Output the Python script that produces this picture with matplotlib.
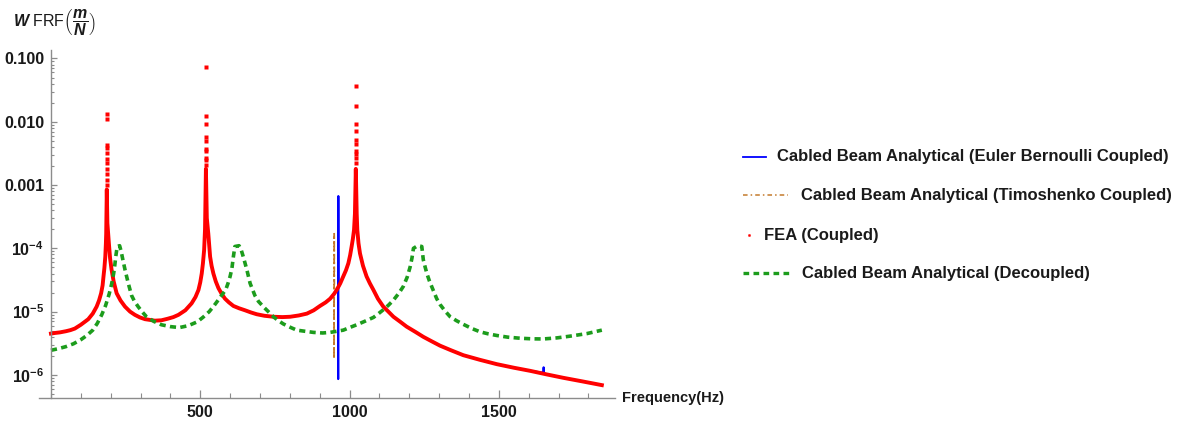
import numpy as np
import matplotlib
matplotlib.use('Agg')
import matplotlib.pyplot as plt
from matplotlib.lines import Line2D
from matplotlib.ticker import FixedLocator, MultipleLocator, NullFormatter, LogLocator

plt.rcParams['font.family'] = ['Liberation Sans', 'DejaVu Sans']
plt.rcParams['mathtext.fontset'] = 'custom'
plt.rcParams['mathtext.rm'] = 'Liberation Sans:bold'
plt.rcParams['mathtext.it'] = 'Liberation Sans:italic:bold'
plt.rcParams['mathtext.bf'] = 'Liberation Sans:bold'

# coupled response (Euler Bernoulli analytical and FEA share this sweep)
freq = [0, 13, 30, 50, 65, 80, 100, 115, 125, 140,
        153, 161, 168, 173, 176, 179, 182, 184, 185, 187,
        189, 194, 198, 203, 210, 220, 233, 248, 265, 281,
        298, 315, 348, 370, 390, 410, 427, 450, 471, 484,
        494, 500, 505, 509, 513, 516, 519, 522, 527, 533,
        538, 544, 552, 561, 572, 583, 596, 611, 630, 650,
        670, 689, 715, 745, 775, 801, 830, 857, 880, 901,
        920, 935, 948, 957, 969, 979, 988, 996, 1002, 1007,
        1011, 1015, 1018, 1021, 1024, 1026, 1030, 1035, 1045, 1057,
        1068, 1080, 1095, 1113, 1130, 1147, 1170, 1191, 1220, 1247,
        1275, 1303, 1340, 1381, 1437, 1493, 1550, 1605, 1660, 1716,
        1780, 1845]
eb_vals = [4.5e-6, 4.6e-6, 4.7e-6, 4.9e-6, 5.1e-6, 5.4e-6, 6.2e-6, 7.0e-6, 7.6e-6, 9.3e-6,
           1.2e-5, 1.5e-5, 1.95e-5, 2.6e-5, 3.6e-5, 4.9e-5, 7.4e-5, 1.2e-4, 1.7e-4, 8.0e-4,
           2.5e-4, 1.2e-4, 7.0e-5, 4.6e-5, 3.0e-5, 1.95e-5, 1.5e-5, 1.2e-5, 1.0e-5, 8.9e-6,
           8.1e-6, 7.6e-6, 7.2e-6, 7.3e-6, 7.7e-6, 8.2e-6, 8.9e-6, 1.05e-5, 1.35e-5, 1.7e-5,
           2.2e-5, 2.9e-5, 4.0e-5, 5.8e-5, 9.4e-5, 2.0e-4, 8.0e-4, 3.0e-4, 1.7e-4, 7.4e-5,
           5.3e-5, 4.0e-5, 3.0e-5, 2.35e-5, 1.9e-5, 1.6e-5, 1.4e-5, 1.23e-5, 1.13e-5, 1.05e-5,
           9.7e-6, 9.1e-6, 8.6e-6, 8.3e-6, 8.2e-6, 8.3e-6, 8.7e-6, 9.3e-6, 1.05e-5, 1.23e-5,
           1.4e-5, 1.6e-5, 1.9e-5, 2.2e-5, 2.8e-5, 3.6e-5, 4.5e-5, 5.8e-5, 7.8e-5, 1.07e-4,
           1.4e-4, 1.95e-4, 3.5e-4, 8.0e-4, 3.5e-4, 1.95e-4, 1.2e-4, 8.3e-5, 5.3e-5, 3.6e-5,
           2.8e-5, 2.2e-5, 1.6e-5, 1.2e-5, 1.0e-5, 8.3e-6, 6.9e-6, 5.8e-6, 4.8e-6, 4.0e-6,
           3.4e-6, 2.9e-6, 2.45e-6, 2.05e-6, 1.73e-6, 1.48e-6, 1.3e-6, 1.16e-6, 1.02e-6, 9.0e-7,
           7.9e-7, 6.9e-7]
fea_vals = [4.5e-6, 4.6e-6, 4.7e-6, 4.9e-6, 5.1e-6, 5.4e-6, 6.2e-6, 7.0e-6, 7.6e-6, 9.3e-6,
            1.2e-5, 1.5e-5, 1.95e-5, 2.6e-5, 3.6e-5, 4.9e-5, 7.4e-5, 1.2e-4, 1.7e-4, 8.5e-4,
            2.5e-4, 1.2e-4, 7.0e-5, 4.6e-5, 3.0e-5, 1.95e-5, 1.5e-5, 1.2e-5, 1.0e-5, 8.9e-6,
            8.1e-6, 7.6e-6, 7.2e-6, 7.3e-6, 7.7e-6, 8.2e-6, 8.9e-6, 1.05e-5, 1.35e-5, 1.7e-5,
            2.2e-5, 2.9e-5, 4.0e-5, 5.8e-5, 9.4e-5, 2.0e-4, 1.8e-3, 3.0e-4, 1.7e-4, 7.4e-5,
            5.3e-5, 4.0e-5, 3.0e-5, 2.35e-5, 1.9e-5, 1.6e-5, 1.4e-5, 1.23e-5, 1.13e-5, 1.05e-5,
            9.7e-6, 9.1e-6, 8.6e-6, 8.3e-6, 8.2e-6, 8.3e-6, 8.7e-6, 9.3e-6, 1.05e-5, 1.23e-5,
            1.4e-5, 1.6e-5, 1.9e-5, 2.2e-5, 2.8e-5, 3.6e-5, 4.5e-5, 5.8e-5, 7.8e-5, 1.07e-4,
            1.4e-4, 1.95e-4, 3.5e-4, 1.8e-3, 3.5e-4, 1.95e-4, 1.2e-4, 8.3e-5, 5.3e-5, 3.6e-5,
            2.8e-5, 2.2e-5, 1.6e-5, 1.2e-5, 1.0e-5, 8.3e-6, 6.9e-6, 5.8e-6, 4.8e-6, 4.0e-6,
            3.4e-6, 2.9e-6, 2.45e-6, 2.05e-6, 1.73e-6, 1.48e-6, 1.3e-6, 1.16e-6, 1.02e-6, 9.0e-7,
            7.9e-7, 6.9e-7]

# narrow resonance pairs only seen in the analytical curves
eb_spike_freq = [961.5, 962, 962.5, 963, 1649, 1650, 1651]
eb_spike_vals = [2.3e-5, 8.6e-7, 6.7e-4, 2.4e-5, 1.08e-6, 1.32e-6, 1.07e-6]
timo_spike_freq = [947.5, 948, 948.5, 949]
timo_spike_vals = [1.9e-5, 1.8e-6, 1.7e-4, 1.95e-5]

# FEA points scattered above the peaks
fea_peak_freq = [187] * 11 + [519] * 10 + [1021] * 10
fea_peak_vals = [0.0132, 0.0110, 0.0043, 0.0038, 0.0032, 0.0026, 0.0022, 0.0018, 0.0015, 0.0012, 0.0010,
                 0.074, 0.0124, 0.0091, 0.0058, 0.0050, 0.0037, 0.0034, 0.0027, 0.0025, 0.0021,
                 0.037, 0.0179, 0.0091, 0.0072, 0.0051, 0.0044, 0.0034, 0.0031, 0.0027, 0.0022]

# decoupled analytical
dec_freq = [0, 25, 50, 75, 100, 120, 140, 155, 170, 183,
            195, 203, 210, 214, 217, 222, 230, 235, 240, 248,
            259, 270, 280, 292, 305, 320, 345, 370, 400, 430,
            460, 490, 510, 530, 545, 560, 573, 585, 593, 600,
            606, 611, 616, 630, 637, 644, 656, 667, 683, 695,
            711, 728, 745, 760, 778, 800, 823, 850, 879, 910,
            935, 958, 979, 1000, 1024, 1050, 1080, 1097, 1113, 1130,
            1147, 1165, 1180, 1193, 1203, 1209, 1214, 1228, 1242, 1247,
            1253, 1259, 1267, 1275, 1292, 1303, 1320, 1337, 1358, 1381,
            1410, 1437, 1465, 1493, 1530, 1571, 1610, 1649, 1695, 1739,
            1795, 1845]
dec_vals = [2.45e-6, 2.6e-6, 2.8e-6, 3.1e-6, 3.6e-6, 4.2e-6, 5.1e-6, 6.5e-6, 8.9e-6, 1.25e-5,
            1.9e-5, 2.7e-5, 4.0e-5, 5.5e-5, 7.4e-5, 1.07e-4, 1.1e-4, 9.0e-5, 6.9e-5, 4.6e-5,
            2.8e-5, 1.8e-5, 1.45e-5, 1.2e-5, 1.0e-5, 8.3e-6, 7.0e-6, 6.2e-6, 5.8e-6, 5.6e-6,
            6.0e-6, 6.9e-6, 8.2e-6, 1.0e-5, 1.22e-5, 1.52e-5, 1.85e-5, 2.2e-5, 2.8e-5, 3.6e-5,
            4.8e-5, 7.4e-5, 1.07e-4, 1.1e-4, 9.5e-5, 7.4e-5, 4.6e-5, 2.8e-5, 1.8e-5, 1.45e-5,
            1.2e-5, 1.0e-5, 8.3e-6, 7.3e-6, 6.4e-6, 5.7e-6, 5.1e-6, 4.9e-6, 4.7e-6, 4.6e-6,
            4.7e-6, 4.9e-6, 5.1e-6, 5.6e-6, 6.2e-6, 7.0e-6, 8.1e-6, 9.3e-6, 1.07e-5, 1.26e-5,
            1.52e-5, 1.95e-5, 2.5e-5, 3.5e-5, 5.1e-5, 7.0e-5, 1.0e-4, 1.1e-4, 1.07e-4, 6.6e-5,
            5.1e-5, 4.0e-5, 3.1e-5, 2.5e-5, 1.6e-5, 1.3e-5, 1.02e-5, 8.3e-6, 7.2e-6, 6.3e-6,
            5.4e-6, 4.8e-6, 4.45e-6, 4.2e-6, 3.95e-6, 3.8e-6, 3.72e-6, 3.7e-6, 3.85e-6, 4.1e-6,
            4.5e-6, 5.1e-6]

ytick_vals = [1e-6, 1e-5, 1e-4, 1e-3, 1e-2, 1e-1]
ytick_labels = [r'$\mathregular{10^{-6}}$', r'$\mathregular{10^{-5}}$', r'$\mathregular{10^{-4}}$',
                '0.001', '0.010', '0.100']
xtick_vals = [500, 1000, 1500]

legend_labels = ['Cabled Beam Analytical (Euler Bernoulli Coupled)',
                 'Cabled Beam Analytical (Timoshenko Coupled)',
                 'FEA (Coupled)',
                 'Cabled Beam Analytical (Decoupled)']

BLUE = '#0000ff'
ORANGE = '#c47a2c'
RED = '#ff0000'
GREEN = '#1c9c1c'
AXIS = '#8c8c8c'


def merged(f1, v1, f2, v2):
    f = np.concatenate([f1, f2])
    v = np.concatenate([v1, v2])
    order = np.argsort(f, kind='stable')
    return f[order], v[order]


eb_f, eb_v = merged(freq, eb_vals, eb_spike_freq, eb_spike_vals)
timo_f, timo_v = merged(freq, eb_vals, timo_spike_freq, timo_spike_vals)

fig = plt.figure(figsize=(11.82, 4.23), dpi=100)
ax = fig.add_axes([0.0330, 0.0591, 0.4873, 0.8227])

ax.plot(eb_f, eb_v, color=BLUE, lw=1.5)
ax.plot(timo_f, timo_v, color=ORANGE, lw=1.3, linestyle=(0, (3, 1.5, 1, 1.5)))
ax.plot(freq, fea_vals, color=RED, lw=2.8)
ax.plot(fea_peak_freq, fea_peak_vals, linestyle='none', marker='s', ms=2.4, color=RED, mec='none')
ax.plot(dec_freq, dec_vals, color=GREEN, lw=2.6, linestyle=(0, (1.7, 1.2)))

ax.set_yscale('log')
ax.set_xlim(-40, 1889)
ax.set_ylim(4.32e-7, 0.136)

for side in ['top', 'right']:
    ax.spines[side].set_visible(False)
ax.spines['left'].set_position(('data', 0))
ax.spines['left'].set_color(AXIS)
ax.spines['bottom'].set_color(AXIS)
ax.spines['left'].set_linewidth(1.0)
ax.spines['bottom'].set_linewidth(1.0)

ax.yaxis.set_major_locator(FixedLocator(ytick_vals))
ax.set_yticklabels(ytick_labels)
ax.yaxis.set_minor_locator(LogLocator(base=10, subs=np.arange(2, 10)))
ax.yaxis.set_minor_formatter(NullFormatter())
ax.xaxis.set_major_locator(FixedLocator(xtick_vals))
ax.xaxis.set_minor_locator(MultipleLocator(100))
ax.xaxis.set_minor_formatter(NullFormatter())

ax.tick_params(axis='both', which='major', direction='in', color=AXIS, width=0.9,
               labelsize=11.5, labelcolor='#1a1a1a')
ax.tick_params(axis='y', which='major', length=4, pad=5)
ax.tick_params(axis='y', which='minor', direction='in', length=2, color=AXIS, width=0.8)
ax.tick_params(axis='x', which='major', length=6, pad=5)
ax.tick_params(axis='x', which='minor', direction='in', length=3.5, color=AXIS, width=0.8)
for lab in ax.get_xticklabels() + ax.get_yticklabels():
    lab.set_fontweight('bold')

ax.text(1.012, 0.0, 'Frequency(Hz)', transform=ax.transAxes, ha='left', va='center',
        fontsize=10.5, fontweight='bold', color='#1a1a1a')
fig.text(13 / 1182, 1 - 22 / 423, r'$\mathit{W}$ FRF$\left(\dfrac{\mathit{m}}{\mathit{N}}\right)$',
         ha='left', va='center', fontsize=11.5, color='#1a1a1a')

# legend on the right
W, H = 1182.0, 423.0
rows = [(157, 743, 766, 777, dict(color=BLUE, lw=1.3)),
        (195, 743, 788, 801, dict(color=ORANGE, lw=1.1, linestyle=(0, (3, 2, 1, 2)))),
        (235, 749, 749, 764, dict(color=RED, marker='s', ms=1.5, linestyle='none', mec='none')),
        (273, 743, 789, 802, dict(color=GREEN, lw=2.4, linestyle=(0, (1.7, 1.3))))]
for (y, x0, x1, xt, style), label in zip(rows, legend_labels):
    fig.add_artist(Line2D([x0 / W, x1 / W], [1 - y / H, 1 - y / H], transform=fig.transFigure, **style))
    fig.text(xt / W, 1 - y / H, label, ha='left', va='center', fontsize=12,
             fontweight='bold', color='#1a1a1a')

fig.savefig('out.png', dpi=100)
